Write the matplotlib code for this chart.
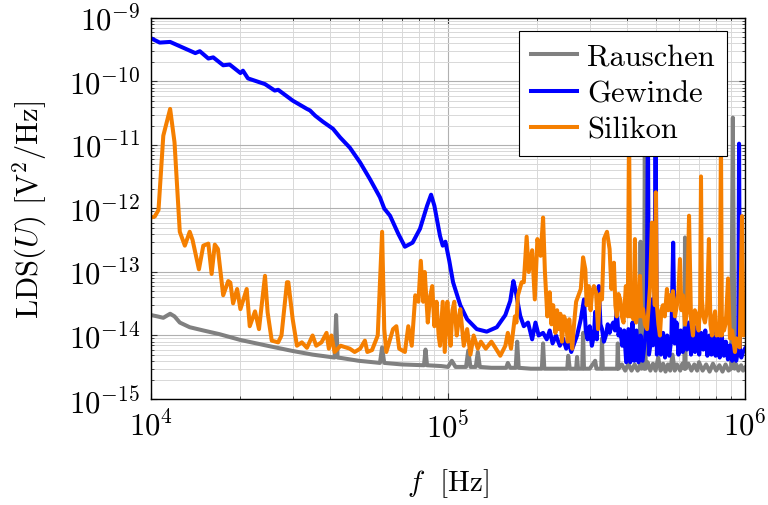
import matplotlib
matplotlib.use("Agg")
import matplotlib.pyplot as plt
import numpy as np
from matplotlib.ticker import LogLocator, LogFormatterSciNotation, NullFormatter

plt.rcParams['font.family'] = ['cmr10', 'DejaVu Serif']
plt.rcParams['mathtext.fontset'] = 'cm'
plt.rcParams['axes.unicode_minus'] = False
plt.rcParams['axes.formatter.use_mathtext'] = True

# ---------------- data ----------------
rausch_f = [1.0e4, 1.05e4, 1.1e4, 1.16e4, 1.2e4, 1.25e4, 1.35e4, 1.5e4, 1.7e4, 2.0e4,
            2.5e4, 3.0e4, 3.5e4, 4.0e4, 4.15e4, 4.2e4, 4.25e4, 4.4e4, 5.0e4, 5.9e4,
            6.0e4, 6.1e4, 7.0e4, 8.3e4, 8.4e4, 8.5e4, 9.5e4, 1.0e5, 1.03e5, 1.06e5,
            1.15e5, 1.17e5, 1.19e5, 1.24e5, 1.26e5, 1.28e5, 1.4e5, 1.57e5, 1.59e5, 1.62e5,
            1.69e5, 1.71e5, 1.73e5, 1.9e5, 2.07e5, 2.09e5, 2.11e5, 2.3e5, 2.52e5, 2.54e5,
            2.57e5, 2.7e5, 2.72e5, 2.74e5, 2.83e5, 2.85e5, 2.87e5, 3.0e5, 3.13e5, 3.16e5,
            3.28e5, 3.3e5, 3.32e5, 3.5e5, 3.71e5, 3.73e5, 3.75e5, 3.85e5, 3.95e5, 4.05e5,
            4.15e5, 4.25e5, 4.35e5, 4.42e5, 4.45e5, 4.48e5, 4.54e5, 4.57e5, 4.6e5, 4.63e5,
            4.7e5, 4.8e5, 4.9e5, 5.0e5, 5.1e5, 5.2e5, 5.3e5, 5.4e5, 5.5e5, 5.6e5,
            5.7e5, 5.8e5, 5.9e5, 6.05e5, 6.15e5, 6.25e5, 6.28e5, 6.31e5, 6.45e5, 6.6e5,
            6.75e5, 6.9e5, 7.0e5, 7.2e5, 7.4e5, 7.6e5, 7.8e5, 8.0e5, 8.2e5, 8.4e5,
            8.6e5, 8.8e5, 8.98e5, 9.1e5, 9.22e5, 9.35e5, 9.5e5, 9.7e5, 9.85e5, 1.0e6]
rausch_v = [2.1e-14, 2.0e-14, 1.9e-14, 2.2e-14, 2.0e-14, 1.6e-14, 1.35e-14, 1.2e-14, 1.05e-14, 8.5e-15,
            6.8e-15, 5.7e-15, 5.0e-15, 4.6e-15, 4.5e-15, 2.1e-14, 4.5e-15, 4.4e-15, 4.0e-15, 3.7e-15,
            6.5e-15, 3.7e-15, 3.5e-15, 3.4e-15, 6.0e-15, 3.4e-15, 3.3e-15, 3.2e-15, 4.0e-15, 3.2e-15,
            3.2e-15, 5.8e-15, 3.2e-15, 3.2e-15, 5.5e-15, 3.2e-15, 3.1e-15, 3.1e-15, 3.7e-15, 3.1e-15,
            3.1e-15, 8.0e-15, 3.1e-15, 3.0e-15, 3.0e-15, 7.5e-15, 3.0e-15, 3.0e-15, 3.0e-15, 4.8e-15,
            3.0e-15, 3.0e-15, 4.6e-15, 3.0e-15, 3.0e-15, 1.1e-14, 3.0e-15, 3.0e-15, 4.0e-15, 3.0e-15,
            3.0e-15, 9.0e-15, 3.0e-15, 3.0e-15, 3.0e-15, 7.5e-15, 3.0e-15, 3.5e-15, 2.8e-15, 3.6e-15,
            2.8e-15, 3.5e-15, 2.8e-15, 3.2e-15, 3.0e-13, 3.0e-15, 3.6e-15, 3.0e-15, 2.0e-11, 3.0e-15,
            3.8e-15, 2.8e-15, 3.6e-15, 2.8e-15, 4.5e-15, 2.8e-15, 3.6e-15, 2.7e-15, 3.5e-15, 2.8e-15,
            5.0e-15, 2.8e-15, 3.5e-15, 2.8e-15, 3.6e-15, 3.0e-15, 3.5e-13, 3.0e-15, 3.6e-15, 2.8e-15,
            3.5e-15, 2.8e-15, 3.8e-15, 2.8e-15, 3.5e-15, 2.7e-15, 3.6e-15, 2.8e-15, 3.4e-15, 2.7e-15,
            3.5e-15, 2.8e-15, 3.0e-15, 2.7e-11, 3.0e-15, 3.5e-15, 2.8e-15, 3.4e-15, 2.8e-15, 3.1e-15]

gew_f = [1.0e4, 1.07e4, 1.16e4, 1.25e4, 1.41e4, 1.46e4, 1.56e4, 1.62e4, 1.75e4, 1.84e4,
         2.0e4, 2.04e4, 2.12e4, 2.42e4, 2.61e4, 2.68e4, 3.0e4, 3.35e4, 3.43e4, 3.57e4,
         3.79e4, 4.1e4, 4.33e4, 4.67e4, 5.06e4, 5.46e4, 5.9e4, 6.1e4, 6.38e4, 6.8e4,
         7.16e4, 7.6e4, 8.05e4, 8.5e4, 8.77e4, 9.0e4, 9.4e4, 9.6e4, 9.8e4, 1.01e5,
         1.04e5, 1.1e5, 1.16e5, 1.25e5, 1.35e5, 1.46e5, 1.56e5, 1.62e5, 1.66e5, 1.69e5,
         1.75e5, 1.8e5, 1.86e5, 1.92e5, 1.97e5, 2.02e5, 2.09e5, 2.15e5, 2.2e5, 2.25e5,
         2.31e5, 2.38e5, 2.44e5, 2.5e5, 2.55e5, 2.6e5, 2.66e5, 2.72e5, 2.8e5, 2.87e5,
         2.91e5, 2.95e5, 3.0e5, 3.05e5, 3.1e5, 3.13e5, 3.17e5, 3.22e5, 3.26e5, 3.3e5,
         3.35e5, 3.4e5, 3.45e5, 3.5e5, 3.55e5, 3.6e5, 3.65e5, 3.7e5, 3.75e5, 3.8e5,
         3.86e5, 3.92e5, 3.98e5, 4.05e5, 4.11e5, 4.18e5, 4.24e5, 4.31e5, 4.38e5, 4.45e5,
         4.52e5, 4.6e5, 4.67e5, 4.71e5, 4.75e5, 4.82e5, 4.86e5, 4.9e5, 4.95e5, 5.0e5,
         5.05e5, 5.13e5, 5.21e5, 5.3e5, 5.38e5, 5.47e5, 5.56e5, 5.65e5, 5.73e5, 5.8e5,
         5.88e5, 5.97e5, 6.07e5, 6.17e5, 6.27e5, 6.37e5, 6.47e5, 6.58e5, 6.68e5, 6.79e5,
         6.9e5, 7.01e5, 7.12e5, 7.24e5, 7.35e5, 7.47e5, 7.59e5, 7.71e5, 7.84e5, 7.96e5,
         8.09e5, 8.22e5, 8.35e5, 8.49e5, 8.62e5, 8.76e5, 8.9e5, 9.05e5, 9.19e5, 9.34e5,
         9.49e5, 9.55e5, 9.62e5, 9.72e5, 9.85e5, 1.0e6]
gew_v = [4.8e-10, 4.1e-10, 4.2e-10, 3.6e-10, 2.8e-10, 3.0e-10, 2.3e-10, 2.4e-10, 1.8e-10, 1.85e-10,
         1.36e-10, 1.48e-10, 1.12e-10, 9.1e-11, 7.2e-11, 7.4e-11, 5.0e-11, 3.7e-11, 3.5e-11, 2.9e-11,
         2.33e-11, 1.8e-11, 1.32e-11, 9.1e-12, 5.3e-12, 2.9e-12, 1.5e-12, 1.0e-12, 7.7e-13, 4.0e-13,
         2.5e-13, 2.9e-13, 4.8e-13, 1.1e-12, 1.65e-12, 1.1e-12, 3.7e-13, 2.6e-13, 3.0e-13, 1.5e-13,
         6.9e-14, 3.0e-14, 1.8e-14, 1.26e-14, 1.15e-14, 1.35e-14, 2.1e-14, 3.5e-14, 7.2e-14, 5.0e-14,
         2.05e-14, 1.4e-14, 1.6e-14, 8.7e-15, 1.6e-14, 1.0e-14, 1.1e-14, 8.7e-15, 1.2e-14, 7.5e-15,
         1.0e-14, 6.9e-15, 9.0e-15, 6.2e-15, 8.0e-15, 5.5e-15, 7.5e-15, 1.0e-14, 1.8e-14, 3.7e-14,
         1.2e-14, 8.7e-15, 1.4e-14, 6.9e-15, 1.0e-14, 2.35e-14, 8.7e-15, 6.0e-14, 1.5e-14, 1.26e-14,
         8.0e-15, 1.0e-14, 1.5e-14, 1.1e-14, 1.4e-14, 1.6e-14, 1.2e-14, 2.6e-14, 1.0e-14, 1.26e-14,
         6.9e-15, 1.2e-14, 3.8e-15, 1.26e-14, 3.8e-15, 1.6e-14, 4.0e-15, 1.2e-14, 3.8e-15, 1.0e-14,
         4.0e-15, 8.0e-15, 1.5e-14, 3.0e-11, 5.0e-15, 8.0e-15, 3.7e-14, 7.0e-15, 1.0e-14, 3.0e-11,
         5.0e-15, 1.2e-14, 5.0e-15, 1.1e-14, 4.5e-15, 1.0e-14, 4.8e-15, 9.0e-15, 2.9e-13, 7.5e-15,
         1.6e-14, 5.0e-15, 1.2e-14, 5.5e-15, 1.3e-14, 6.0e-15, 1.6e-14, 5.0e-15, 1.2e-14, 5.5e-15,
         1.4e-14, 5.0e-15, 1.1e-14, 6.0e-15, 1.2e-14, 4.8e-15, 1.0e-14, 5.0e-15, 1.2e-14, 4.8e-15,
         9.0e-15, 4.5e-15, 1.0e-14, 4.8e-15, 8.0e-15, 4.2e-15, 7.0e-15, 4.0e-15, 6.5e-15, 4.0e-15,
         6.0e-15, 1.05e-11, 5.0e-15, 4.5e-15, 5.5e-15, 6.2e-15]

sil_f = [1.0e4, 1.03e4, 1.06e4, 1.1e4, 1.16e4, 1.2e4, 1.25e4, 1.3e4, 1.35e4, 1.38e4,
         1.45e4, 1.5e4, 1.56e4, 1.6e4, 1.64e4, 1.68e4, 1.75e4, 1.82e4, 1.85e4, 1.89e4,
         1.95e4, 2.0e4, 2.1e4, 2.15e4, 2.24e4, 2.31e4, 2.42e4, 2.47e4, 2.55e4, 2.68e4,
         2.75e4, 2.87e4, 2.9e4, 3.0e4, 3.1e4, 3.22e4, 3.35e4, 3.5e4, 3.6e4, 3.75e4,
         3.9e4, 3.97e4, 4.05e4, 4.15e4, 4.35e4, 4.67e4, 4.85e4, 5.06e4, 5.25e4, 5.35e4,
         5.55e4, 5.8e4, 6.0e4, 6.1e4, 6.2e4, 6.53e4, 6.7e4, 6.85e4, 7.16e4, 7.35e4,
         7.55e4, 7.76e4, 7.95e4, 8.1e4, 8.25e4, 8.35e4, 8.55e4, 8.7e4, 8.85e4, 9.0e4,
         9.15e4, 9.3e4, 9.4e4, 9.6e4, 9.75e4, 9.95e4, 1.01e5, 1.02e5, 1.035e5, 1.05e5,
         1.07e5, 1.09e5, 1.1e5, 1.13e5, 1.16e5, 1.19e5, 1.22e5, 1.26e5, 1.29e5, 1.34e5,
         1.4e5, 1.45e5, 1.5e5, 1.56e5, 1.59e5, 1.63e5, 1.68e5, 1.7e5, 1.72e5, 1.77e5,
         1.8e5, 1.84e5, 1.87e5, 1.92e5, 1.96e5, 2.0e5, 2.05e5, 2.09e5, 2.12e5, 2.16e5,
         2.2e5, 2.23e5, 2.26e5, 2.3e5, 2.33e5, 2.36e5, 2.39e5, 2.42e5, 2.46e5, 2.5e5,
         2.53e5, 2.56e5, 2.59e5, 2.62e5, 2.66e5, 2.7e5, 2.75e5, 2.8e5, 2.85e5, 2.9e5,
         2.93e5, 2.98e5, 3.02e5, 3.06e5, 3.1e5, 3.15e5, 3.2e5, 3.25e5, 3.3e5, 3.35e5,
         3.43e5, 3.5e5, 3.55e5, 3.62e5, 3.66e5, 3.7e5, 3.75e5, 3.8e5, 3.85e5, 3.9e5,
         3.97e5, 4.03e5, 4.07e5, 4.11e5, 4.16e5, 4.21e5, 4.26e5, 4.3e5, 4.33e5, 4.38e5,
         4.43e5, 4.48e5, 4.54e5, 4.6e5, 4.68e5, 4.74e5, 4.79e5, 4.86e5, 4.9e5, 4.97e5,
         5.01e5, 5.05e5, 5.11e5, 5.17e5, 5.23e5, 5.29e5, 5.37e5, 5.46e5, 5.52e5, 5.59e5,
         5.66e5, 5.72e5, 5.81e5, 5.9e5, 5.97e5, 6.04e5, 6.11e5, 6.18e5, 6.28e5, 6.38e5,
         6.48e5, 6.58e5, 6.68e5, 6.78e5, 6.89e5, 6.98e5, 7.06e5, 7.11e5, 7.16e5, 7.24e5,
         7.33e5, 7.45e5, 7.56e5, 7.65e5, 7.74e5, 7.83e5, 7.93e5, 8.02e5, 8.11e5, 8.22e5,
         8.3e5, 8.36e5, 8.43e5, 8.5e5, 8.62e5, 8.77e5, 8.9e5, 9.05e5, 9.25e5, 9.36e5,
         9.47e5, 9.6e5, 9.77e5, 9.88e5, 1.0e6]
sil_v = [7.2e-13, 7.5e-13, 9.5e-13, 1.4e-11, 3.7e-11, 1.1e-11, 4.3e-13, 2.6e-13, 4.3e-13, 3.2e-13,
         1.1e-13, 2.6e-13, 2.8e-13, 9.3e-14, 2.7e-13, 2.3e-13, 4.3e-14, 7.2e-14, 6.8e-14, 3.2e-14,
         5.4e-14, 2.6e-14, 5.4e-14, 1.4e-14, 2.4e-14, 1.26e-14, 8.7e-14, 2.3e-14, 8.3e-15, 7.8e-15,
         1.0e-14, 6.9e-14, 6.9e-14, 1.8e-14, 6.9e-15, 7.8e-15, 6.4e-15, 1.0e-14, 6.9e-15, 7.8e-15,
         1.1e-14, 6.2e-15, 1.0e-14, 5.5e-15, 6.9e-15, 6.2e-15, 5.5e-15, 6.2e-15, 8.3e-15, 5.5e-15,
         5.9e-15, 1.0e-14, 4.3e-13, 1.26e-14, 5.5e-15, 1.26e-14, 1.4e-14, 6.2e-15, 5.5e-15, 1.4e-14,
         6.9e-15, 4.3e-14, 3.4e-14, 1.5e-13, 3.4e-14, 1.0e-13, 1.6e-14, 4.0e-14, 6.0e-14, 1.4e-14,
         3.4e-14, 1.0e-14, 6.9e-15, 3.4e-14, 5.5e-15, 3.4e-14, 1.2e-14, 6.9e-15, 2.5e-14, 3.4e-14,
         1.0e-14, 2.0e-14, 2.6e-14, 6.9e-15, 1.26e-14, 5.0e-15, 1.0e-14, 6.2e-15, 8.0e-15, 6.2e-15,
         8.0e-15, 6.2e-15, 4.8e-15, 6.9e-15, 1.1e-14, 6.2e-15, 2.0e-14, 1.6e-14, 4.3e-14, 6.9e-14,
         6.9e-14, 3.6e-13, 1.0e-13, 2.2e-13, 3.7e-14, 3.3e-13, 1.8e-13, 7.2e-13, 1.0e-13, 2.0e-14,
         4.8e-14, 1.5e-14, 3.0e-14, 1.1e-14, 2.5e-14, 1.26e-14, 2.2e-14, 8.0e-15, 2.0e-14, 1.6e-14,
         8.0e-15, 1.8e-14, 1.0e-14, 6.2e-15, 1.6e-14, 3.4e-14, 4.3e-14, 5.4e-14, 1.7e-13, 1.1e-13,
         3.0e-14, 6.0e-14, 2.5e-14, 5.0e-14, 6.0e-14, 4.8e-14, 1.26e-14, 4.5e-14, 3.7e-14, 3.3e-13,
         4.3e-13, 2.3e-13, 5.4e-14, 1.4e-13, 3.0e-14, 2.0e-14, 4.5e-14, 3.7e-14, 2.0e-14, 1.6e-14,
         6.0e-14, 2.0e-14, 2.0e-11, 2.0e-14, 4.0e-14, 1.8e-14, 3.3e-13, 1.6e-14, 3.0e-14, 2.0e-14,
         8.7e-14, 2.0e-14, 2.6e-14, 1.5e-14, 1.26e-14, 3.0e-14, 6.0e-14, 6.0e-13, 1.2e-13, 3.0e-14,
         1.8e-12, 3.0e-14, 1.5e-14, 1.0e-14, 2.5e-14, 3.0e-14, 2.0e-14, 5.4e-14, 2.5e-14, 4.3e-14,
         2.5e-14, 5.0e-14, 2.0e-14, 3.0e-14, 5.0e-14, 1.6e-13, 2.5e-14, 4.3e-14, 1.5e-14, 2.3e-14,
         7.7e-13, 1.8e-14, 1.0e-14, 2.5e-14, 2.0e-14, 1.2e-14, 3.0e-14, 3.2e-12, 3.7e-14, 2.0e-14,
         1.6e-14, 2.5e-14, 3.3e-13, 1.5e-14, 1.0e-14, 1.8e-14, 2.4e-14, 1.0e-14, 1.26e-14, 1.0e-14,
         1.5e-11, 1.0e-14, 1.8e-14, 1.2e-14, 1.6e-14, 7.9e-14, 9.0e-15, 1.2e-14, 5.5e-15, 9.0e-15,
         7.0e-15, 6.5e-15, 7.6e-13, 1.0e-14, 1.6e-14]

labels = ['Rauschen', 'Gewinde', 'Silikon']
colors = ['#808080', '#0000ff', '#f57f00']

# ---------------- plot ----------------
fig = plt.figure(figsize=(7.68, 5.06), dpi=100)
ax = fig.add_axes([151/768, 1-400/506, 594/768, 381/506])

for f, v, lab, c in zip([rausch_f, gew_f, sil_f], [rausch_v, gew_v, sil_v], labels, colors):
    ax.plot(f, v, color=c, lw=2.9, label=lab, solid_joinstyle='round')

ax.set_xscale('log')
ax.set_yscale('log')
ax.set_xlim(1e4, 1e6)
ax.set_ylim(1e-15, 1e-9)

ax.xaxis.set_major_locator(LogLocator(base=10, numticks=10))
ax.yaxis.set_major_locator(LogLocator(base=10, numticks=10))
ax.xaxis.set_minor_locator(LogLocator(base=10, subs=np.arange(2, 10), numticks=20))
ax.yaxis.set_minor_locator(LogLocator(base=10, subs=np.arange(2, 10), numticks=20))
ax.xaxis.set_major_formatter(LogFormatterSciNotation())
ax.yaxis.set_major_formatter(LogFormatterSciNotation())
ax.xaxis.set_minor_formatter(NullFormatter())
ax.yaxis.set_minor_formatter(NullFormatter())

ax.grid(True, which='major', color='#b0b0b0', lw=0.8)
ax.grid(True, which='minor', color='#d8d8d8', lw=0.7)
ax.set_axisbelow(True)
ax.tick_params(which='both', direction='in', top=True, right=True, labelsize=22, color='#333333')
ax.tick_params(which='major', length=4, pad=8)
ax.tick_params(which='minor', length=2)
for s in ax.spines.values():
    s.set_linewidth(1.0)

ax.set_xlabel(r'$f\ $ [Hz]', fontsize=21, labelpad=17)
ax.set_ylabel(r'LDS($U$) [V$^2$/Hz]', fontsize=22, labelpad=14)

leg = ax.legend(loc='upper right', bbox_to_anchor=(0.970, 0.966), borderaxespad=0,
                fontsize=22, fancybox=False, framealpha=1, edgecolor='black',
                handlelength=1.5, handletextpad=0.35, borderpad=0.4, labelspacing=0.3)
leg.get_frame().set_linewidth(0.8)

fig.savefig('out.png', dpi=100)
